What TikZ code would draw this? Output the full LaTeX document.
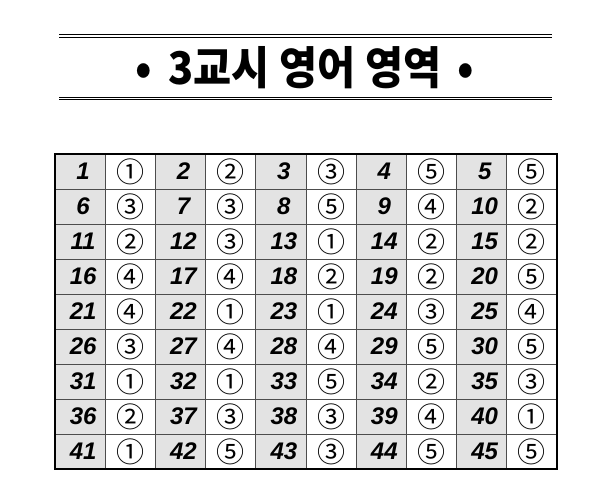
\documentclass[tikz,border=0pt]{standalone}
\usepackage{graphicx}
\usepackage{fontspec}
\setmainfont{Liberation Sans}
\newfontfamily\kor{Noto Sans CJK KR}
\usetikzlibrary{positioning}
\newcommand\circnum[1]{\ifcase#1\or ①\or ②\or ③\or ④\or ⑤\fi}

\begin{document}
\begin{tikzpicture}[x = 1pt, y = -1pt]

\tikzset{
	title_rule/.style = {
		double, double distance = 1.6pt, line width = 0.8pt
	},
	num_cell/.style = {
		minimum width = 50.2pt, minimum height = 35pt, inner sep = 0pt, outer sep = 0pt,
		fill = gray!22, draw = black!70, line width = 1pt,
		font = \fontsize{24}{24}\selectfont\bfseries\itshape
	},
	ans_cell/.style = {
		minimum width = 50.2pt, minimum height = 35pt, inner sep = 0pt, outer sep = 0pt,
		fill = white, draw = black!70, line width = 1pt,
		font = \kor\fontsize{28}{28}\selectfont
	}
}

\useasboundingbox (0,0) rectangle (600,501);

% Titel
\node[font = \kor\bfseries\fontsize{45}{45}\selectfont] (title) at (305,68)
	{\scalebox{0.92}[1]{•\hspace{18pt}3교시 영어 영역\hspace{18pt}•}};
\draw[title_rule] (59,36) -- (552,36);
\draw[title_rule] (59,98.5) -- (552,98.5);

% Tabelle: Nummer und Antwort
\foreach \ans [count = \i, evaluate = \i as \r using {int((\i-1)/5)},
		evaluate = \i as \c using {int(mod(\i-1,5))}]
		in {1,2,3,5,5, 3,3,5,4,2, 2,3,1,2,2, 4,4,2,2,5, 4,1,1,3,4,
			3,4,4,5,5, 1,1,5,2,3, 2,3,3,4,1, 1,5,3,5,5}{
	\node[num_cell] (n\i) at ({80.1+100.4*\c}, {171.5+35*\r}) {\hspace{6pt}\i};
	\node[ans_cell, right = 0pt of n\i] (a\i) {\circnum{\ans}};
}
\draw[line width = 2.6pt] (n1.north west) rectangle (a45.south east);
\end{tikzpicture}
\end{document}
